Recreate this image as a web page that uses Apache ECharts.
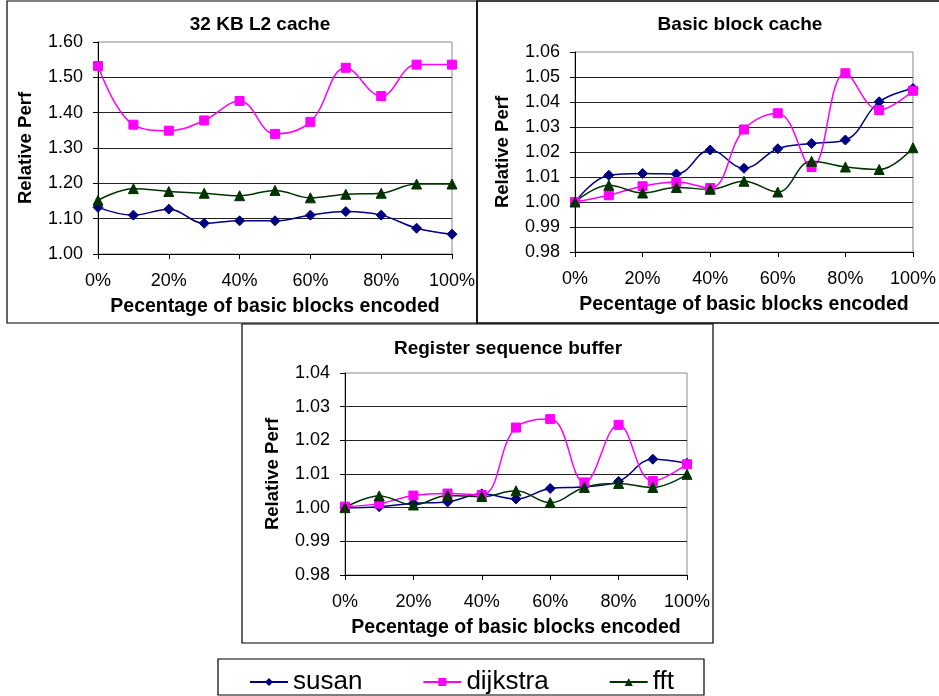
<!DOCTYPE html>
<html>
<head>
<meta charset="utf-8">
<script src="https://cdn.jsdelivr.net/npm/echarts@6/dist/echarts.min.js"></script>
<style>html,body{margin:0;padding:0;background:#fff;}#c{width:939px;height:696px;}</style>
</head>
<body>
<div id="c"></div>
<script>
var categories = ['0%','10%','20%','30%','40%','50%','60%','70%','80%','90%','100%'];
var seriesNames = ['susan','dijkstra','fft'];
var panelTitles = ['32 KB L2 cache','Basic block cache','Register sequence buffer'];
var xAxisName = 'Pecentage of basic blocks encoded';
var yAxisName = 'Relative Perf';

// 32 KB L2 cache
var susanL2    = [1.132,1.110,1.127,1.087,1.094,1.094,1.110,1.120,1.110,1.073,1.056];
var dijkstraL2 = [1.532,1.366,1.349,1.378,1.433,1.340,1.374,1.527,1.447,1.536,1.536];
var fftL2      = [1.152,1.185,1.177,1.172,1.165,1.180,1.159,1.169,1.172,1.198,1.198];
// Basic block cache
var susanBB    = [1.000,1.0107,1.0114,1.0112,1.0208,1.0135,1.0213,1.0234,1.0248,1.0401,1.0454];
var dijkstraBB = [1.000,1.0027,1.0063,1.0080,1.0056,1.0290,1.0355,1.0140,1.0515,1.0368,1.0445];
var fftBB      = [1.000,1.0067,1.0036,1.0058,1.0051,1.0083,1.0040,1.0163,1.0140,1.0130,1.0217];
// Register sequence buffer
var susanRS    = [1.000,1.0003,1.0013,1.0017,1.0041,1.0026,1.0057,1.0062,1.0078,1.0144,1.0132];
var dijkstraRS = [1.0003,1.0012,1.0036,1.0042,1.0038,1.0238,1.0263,1.0075,1.0246,1.0079,1.0129];
var fftRS      = [1.000,1.0035,1.0008,1.0036,1.0033,1.0050,1.0015,1.0060,1.0072,1.0060,1.0099];

var yMins = [1.00, 0.98, 0.98];
var yMaxs = [1.60, 1.06, 1.04];
var yIntervals = [0.10, 0.01, 0.01];

var panelData = [
  [susanL2, dijkstraL2, fftL2],
  [susanBB, dijkstraBB, fftBB],
  [susanRS, dijkstraRS, fftRS]
];

var FONT = 'Liberation Sans, Arial, sans-serif';
var colors = ['#000080', '#FF00FF', '#003300'];
var symbols = ['diamond', 'rect', 'triangle'];
var symbolSizes = [10, 9, 10];

var grids = [
  {left: 98, top: 42, width: 354, height: 212},
  {left: 575, top: 52, width: 341, height: 200},
  {left: 345, top: 373, width: 342, height: 202}
];
var titlePos = [
  {left: 255, top: 10},
  {left: 735, top: 10},
  {left: 503, top: 334}
];

var option = {
  animation: false,
  backgroundColor: '#fff',
  title: panelTitles.map(function (t, i) {
    return {
      text: t, left: titlePos[i].left, top: titlePos[i].top, textAlign: 'center',
      textStyle: {fontFamily: FONT, fontSize: 19, fontWeight: 'bold', color: '#000'}
    };
  }),
  grid: grids.map(function (g) {
    return {left: g.left, top: g.top, width: g.width, height: g.height,
      show: true, borderColor: '#888', borderWidth: 1, backgroundColor: '#fff'};
  }),
  legend: {
    data: seriesNames,
    left: 244, top: 664,
    itemWidth: 38, itemHeight: 10, itemGap: 60,
    textStyle: {fontFamily: FONT, fontSize: 26, color: '#000', padding: [0, 0, 0, 0]}
  },
  xAxis: grids.map(function (g, i) {
    return {
      type: 'category', gridIndex: i, data: categories, boundaryGap: false,
      name: xAxisName, nameLocation: 'middle', nameGap: 43,
      nameTextStyle: {fontFamily: FONT, fontSize: 19.5, fontWeight: 'bold', color: '#000'},
      axisLine: {lineStyle: {color: '#000', width: 1}},
      axisTick: {show: true, interval: 1, length: 5, lineStyle: {color: '#000'}},
      axisLabel: {interval: 1, margin: 18, fontFamily: FONT, fontSize: 18, color: '#000'},
      splitLine: {show: false}
    };
  }),
  yAxis: grids.map(function (g, i) {
    return {
      type: 'value', gridIndex: i, min: yMins[i], max: yMaxs[i], interval: yIntervals[i],
      name: yAxisName, nameLocation: 'middle', nameGap: 63,
      nameTextStyle: {fontFamily: FONT, fontSize: 18.5, fontWeight: 'bold', color: '#000'},
      axisLine: {show: true, lineStyle: {color: '#000', width: 1}},
      axisTick: {show: true, length: 5, lineStyle: {color: '#000'}},
      axisLabel: {margin: 15, fontFamily: FONT, fontSize: 18, color: '#000',
        formatter: function (v) { return v.toFixed(2); }},
      splitLine: {show: true, showMaxLine: false, lineStyle: {color: '#222', width: 1}}
    };
  }),
  series: [],
  graphic: [
    {type: 'rect', shape: {x: 7, y: 1, width: 470, height: 322}, style: {fill: 'none', stroke: '#000', lineWidth: 1.2}, z: -1},
    {type: 'rect', shape: {x: 477, y: 1, width: 470, height: 322}, style: {fill: 'none', stroke: '#000', lineWidth: 1.5}, z: -1},
    {type: 'rect', shape: {x: 242, y: 324, width: 471, height: 319}, style: {fill: 'none', stroke: '#000', lineWidth: 1.2}, z: -1},
    {type: 'rect', shape: {x: 218, y: 659, width: 486, height: 36}, style: {fill: 'none', stroke: '#000', lineWidth: 1.2}, z: -1}
  ]
};

for (var p = 0; p < 3; p++) {
  for (var s = 0; s < 3; s++) {
    option.series.push({
      name: seriesNames[s], type: 'line', xAxisIndex: p, yAxisIndex: p,
      data: panelData[p][s], smooth: 0.4,
      symbol: symbols[s], symbolSize: symbolSizes[s], showSymbol: true,
      lineStyle: {color: colors[s], width: 1.5},
      itemStyle: {color: colors[s], borderColor: colors[s]},
      z: 3
    });
  }
}

var chart = echarts.init(document.getElementById('c'), null, {renderer: 'canvas'});
chart.setOption(option);
</script>
</body>
</html>
